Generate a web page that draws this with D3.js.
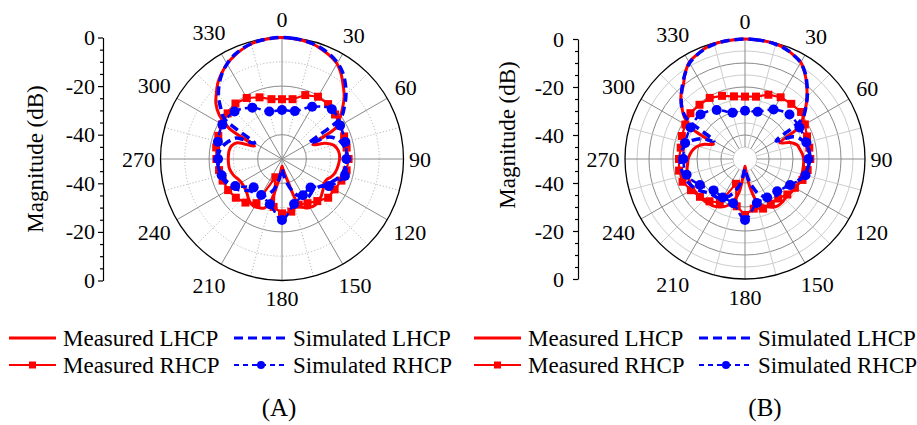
<!DOCTYPE html>
<html><head><meta charset="utf-8">
<script src="https://cdn.jsdelivr.net/npm/d3@7/dist/d3.min.js"></script>
<style>
body{margin:0;background:#fff;}
svg text{font-family:"Liberation Serif","Times New Roman",serif;fill:#000;}
</style></head><body>
<svg id="chart" width="917" height="425"></svg>
<script>
// ---------- data ----------
const angles5 = [0,5,10,15,20,25,30,35,40,45,50,55,60,65,70,75,80,85,90,95,100,105,110,115,120,125,130,135,140,145,150,155,160,165,170,175,180,185,190,195,200,205,210,215,220,225,230,235,240,245,250,255,260,265,270,275,280,285,290,295,300,305,310,315,320,325,330,335,340,345,350,355];
const angles10 = [0,10,20,30,40,50,60,70,80,90,100,110,120,130,140,150,160,170,180,190,200,210,220,230,240,250,260,270,280,290,300,310,320,330,340,350];
const angles15 = [0,15,30,45,60,75,90,105,120,135,150,165,180,195,210,225,240,255,270,285,300,315,330,345];
const angleTicks = [0,30,60,90,120,150,180,210,240,270,300,330];
const angleTickLabels = ["0","30","60","90","120","150","180","210","240","270","300","330"];
const magTickLabels = ["0","-20","-40","-40","-20","0"];

// Figure (A)
const aMeasLHCP = [0,-0.2,-0.5,-1.0,-2.0,-3.2,-4.7,-7.5,-10.8,-13.8,-17.5,-21.0,-24.5,-36.0,-31.0,-28.0,-26.8,-26.3,-26.3,-26.6,-27.0,-27.5,-28.5,-29.8,-30.0,-29.2,-28.4,-27.5,-26.8,-26.6,-27.0,-27.8,-30.0,-40.0,-44.0,-46.0,-47.0,-45.5,-40.0,-32.0,-28.5,-27.8,-27.4,-27.6,-28.6,-29.7,-30.4,-30.7,-30.7,-30.2,-29.2,-28.5,-28.0,-27.9,-27.9,-27.9,-28.0,-28.6,-30.5,-37.5,-25.0,-18.5,-14.5,-11.8,-9.0,-6.8,-4.8,-3.3,-2.0,-1.0,-0.4,-0.1];
const aSimLHCP = [0,-0.1,-0.4,-0.9,-1.7,-2.8,-4.3,-6.5,-9.5,-12.8,-16.5,-20.5,-37.0,-28.5,-26.0,-24.5,-23.7,-23.3,-23.3,-23.5,-24.0,-24.8,-26.0,-27.5,-29.0,-30.5,-31.5,-32.0,-31.5,-31.0,-31.5,-33.0,-35.0,-38.0,-41.0,-44.0,-46.0,-44.0,-40.0,-37.0,-35.0,-33.5,-32.5,-32.0,-32.0,-31.5,-30.0,-28.0,-26.5,-25.3,-24.5,-24.0,-23.7,-23.5,-23.5,-23.8,-24.5,-25.8,-27.5,-29.5,-37.0,-21.0,-17.0,-13.0,-9.8,-7.0,-4.8,-3.0,-1.8,-0.9,-0.4,-0.1];
const aMeasRHCP = [-25.4,-25.0,-22.0,-20.4,-20.5,-21.5,-22.5,-22.8,-23.0,-22.6,-23.0,-24.0,-25.0,-25.2,-27.4,-29.0,-30.0,-28.0,-27.6,-30.0,-42.0,-29.0,-26.6,-25.2,-24.4,-24.0,-23.7,-23.0,-22.5,-22.1,-21.5,-20.8,-20.2,-21.0,-23.0,-25.0];
const aSimRHCP = [-29.8,-29.6,-25.2,-21.0,-22.4,-23.0,-23.5,-23.2,-27.7,-33.4,-32.8,-30.8,-24.9,-30.7,-32.9,-33.5,-27.8,-24.3,-23.7,-22.7,-21.7,-22.4,-25.6,-29.8];

// Figure (B)
const bMeasLHCP = [0,-0.1,-0.2,-0.4,-1.0,-2.2,-3.5,-6.5,-10.0,-13.5,-17.0,-20.5,-25.0,-34.0,-30.0,-27.5,-26.8,-26.0,-25.6,-25.5,-25.5,-25.5,-25.6,-25.6,-25.8,-26.2,-26.6,-26.5,-26.2,-26.2,-26.8,-28.0,-29.5,-32.0,-38.0,-44.0,-47.0,-44.0,-36.0,-32.0,-29.5,-28.0,-27.0,-26.3,-26.0,-25.7,-25.5,-25.3,-25.1,-25.0,-25.1,-25.3,-25.5,-26.0,-26.3,-27.0,-28.0,-29.5,-32.0,-35.5,-24.0,-19.0,-15.5,-12.3,-10.0,-6.5,-3.5,-2.2,-1.0,-0.4,-0.2,-0.1];
const bSimLHCP = [0,-0.1,-0.2,-0.5,-1.1,-2.2,-3.6,-6.3,-9.8,-13.3,-17.0,-21.0,-35.0,-28.0,-25.5,-24.0,-23.3,-23.0,-23.0,-23.3,-23.8,-24.5,-25.5,-27.0,-28.5,-29.5,-30.0,-30.0,-30.0,-30.5,-31.5,-33.0,-35.0,-38.0,-41.0,-44.0,-46.0,-44.0,-40.0,-37.0,-34.5,-32.5,-31.0,-30.3,-30.0,-29.6,-28.5,-27.0,-25.8,-24.8,-24.0,-23.5,-23.2,-23.0,-23.0,-23.2,-23.8,-25.0,-27.0,-30.0,-35.0,-20.0,-15.5,-12.5,-9.5,-6.5,-3.8,-2.3,-1.2,-0.5,-0.2,-0.1];
const bMeasRHCP = [-24.0,-23.6,-21.5,-20.3,-20.0,-19.5,-21.2,-22.5,-22.8,-22.8,-23.5,-24.5,-26.0,-27.0,-28.5,-28.5,-28.0,-29.0,-26.7,-30.0,-39.0,-29.0,-27.0,-25.5,-24.0,-22.3,-22.1,-22.5,-22.8,-22.0,-21.3,-20.3,-20.5,-20.6,-22.0,-23.5];
const bSimRHCP = [-29.9,-29.6,-26.2,-23.8,-23.8,-23.5,-23.6,-23.9,-28.3,-31.0,-31.5,-31.0,-24.6,-30.9,-31.5,-31.5,-28.3,-24.8,-24.3,-24.2,-23.8,-23.8,-26.4,-30.0];

const seriesNames = ["Measured LHCP","Simulated LHCP","Measured RHCP","Simulated RHCP"];
const panelTitles = ["(A)","(B)"];

// ---------- drawing ----------
const svg = d3.select("#chart");
const RED = "#ff0000", BLUE = "#0000ff";

const panels = [
  {cx:282, cy:159, R:121.5, axisX:103, pad:3, ylabX:35, ylabY:159, dense:false, titleX:279,
   data:{ml:aMeasLHCP, sl:aSimLHCP, mr:aMeasRHCP, sr:aSimRHCP}, title:panelTitles[0], legX:0},
  {cx:745, cy:159, R:120, axisX:578, pad:9, ylabX:507, ylabY:135, dense:true, titleX:765,
   data:{ml:bMeasLHCP, sl:bSimLHCP, mr:bMeasRHCP, sr:bSimRHCP}, title:panelTitles[1], legX:465}
];

panels.forEach(p => {
  const g = svg.append("g").attr("transform", `translate(${p.cx},${p.cy})`);
  const r = d3.scaleLinear().domain([-50, 0]).range([0, p.R]).clamp(true);
  const rad = d => d * Math.PI / 180;

  // grid circles
  const gridG = g.append("g");
  if (!p.dense) {
    [-30, -10].forEach(v => gridG.append("circle").attr("r", r(v)).attr("fill", "none")
      .attr("stroke", "#b8b8b8").attr("stroke-width", 1).attr("stroke-dasharray", "1.2,2"));
    [-40, -20].forEach(v => gridG.append("circle").attr("r", r(v)).attr("fill", "none")
      .attr("stroke", "#8a8a8a").attr("stroke-width", 1));
  } else {
    [-45, -35, -25, -15, -5].forEach(v => gridG.append("circle").attr("r", r(v)).attr("fill", "none")
      .attr("stroke", "#cdcdcd").attr("stroke-width", 1));
    [-40, -30, -20, -10].forEach(v => gridG.append("circle").attr("r", r(v)).attr("fill", "none")
      .attr("stroke", "#8a8a8a").attr("stroke-width", 1));
  }
  // radial lines
  const minorAngles = angleTicks.map(a => a + 15);
  minorAngles.forEach(a => {
    const r0 = p.dense ? r(-45) : r(-40);
    gridG.append("line")
      .attr("x1", r0 * Math.sin(rad(a))).attr("y1", -r0 * Math.cos(rad(a)))
      .attr("x2", p.R * Math.sin(rad(a))).attr("y2", -p.R * Math.cos(rad(a)))
      .attr("stroke", p.dense ? "#cdcdcd" : "#b8b8b8").attr("stroke-width", 1)
      .attr("stroke-dasharray", p.dense ? null : "1.2,2");
  });
  angleTicks.forEach(a => {
    const r0 = p.dense ? r(-45) : 0;
    gridG.append("line")
      .attr("x1", r0 * Math.sin(rad(a))).attr("y1", -r0 * Math.cos(rad(a)))
      .attr("x2", p.R * Math.sin(rad(a))).attr("y2", -p.R * Math.cos(rad(a)))
      .attr("stroke", "#8a8a8a").attr("stroke-width", 1);
  });
  gridG.append("circle").attr("r", p.R).attr("fill", "none").attr("stroke", "#000").attr("stroke-width", 1.3);

  // angle labels
  const FS = 22, gap = 5.5, boxH = 25;
  angleTicks.forEach((a, i) => {
    const t = g.append("text").text(angleTickLabels[i]).attr("font-size", FS)
      .attr("text-anchor", "middle").attr("dy", "0.35em");
    const w = t.node().getComputedTextLength();
    const s = Math.abs(Math.sin(rad(a))), c = Math.abs(Math.cos(rad(a)));
    const rr = p.R + gap + s * w / 2 + c * boxH / 2;
    t.attr("x", rr * Math.sin(rad(a))).attr("y", -rr * Math.cos(rad(a)));
  });

  // series
  const mk = (angles, vals) => angles.map((a, i) => [rad(a), r(vals[i])]);
  const lineSmooth = d3.lineRadial().curve(d3.curveCatmullRomClosed.alpha(0.5));
  const lineLin = d3.lineRadial().curve(d3.curveLinearClosed);

  const ml = mk(angles5, p.data.ml), sl = mk(angles5, p.data.sl);
  const mr = mk(angles10, p.data.mr), sr = mk(angles15, p.data.sr);

  g.append("path").attr("d", lineSmooth(ml)).attr("fill", "none").attr("stroke", RED).attr("stroke-width", 3);
  g.append("path").attr("d", lineLin(mr)).attr("fill", "none").attr("stroke", RED).attr("stroke-width", 2.2);
  g.selectAll(null).data(mr).enter().append("rect")
    .attr("x", d => d[1] * Math.sin(d[0]) - 4).attr("y", d => -d[1] * Math.cos(d[0]) - 4)
    .attr("width", 8).attr("height", 8).attr("fill", RED);
  g.append("path").attr("d", lineSmooth(sl)).attr("fill", "none").attr("stroke", BLUE)
    .attr("stroke-width", 3.5).attr("stroke-dasharray", "9,5");
  g.append("path").attr("d", lineSmooth(sr)).attr("fill", "none").attr("stroke", BLUE)
    .attr("stroke-width", 2.5).attr("stroke-dasharray", "6,4");
  g.selectAll(null).data(sr).enter().append("circle")
    .attr("cx", d => d[1] * Math.sin(d[0])).attr("cy", d => -d[1] * Math.cos(d[0]))
    .attr("r", 5).attr("fill", BLUE);

  // magnitude axis (mirrored)
  const yS = d3.scaleLinear().domain([50, -50]).range([p.cy - p.R, p.cy + p.R]);
  const tickVals = d3.range(-50, 51, 5);
  const labelIdx = {"50":0, "30":1, "10":2, "-10":3, "-30":4, "-50":5};
  const ax = d3.axisLeft(yS).tickValues(tickVals).tickSize(5).tickSizeOuter(0).tickPadding(p.pad)
    .tickFormat(v => (String(v) in labelIdx) ? magTickLabels[labelIdx[String(v)]] : "");
  const axG = svg.append("g").attr("transform", `translate(${p.axisX},0)`).call(ax);
  axG.select(".domain").attr("stroke", "#000").attr("stroke-width", 1.2);
  axG.selectAll(".tick line").attr("stroke", "#000").attr("stroke-width", 1.2)
    .attr("x2", v => (String(v) in labelIdx) ? -5 : -3);
  axG.selectAll(".tick text").attr("font-size", 22).attr("font-family", "Liberation Serif").attr("fill", "#000");

  svg.append("text").text("Magnitude (dB)").attr("font-size", 23).attr("text-anchor", "middle")
    .attr("transform", `translate(${p.ylabX},${p.ylabY}) rotate(-90)`).attr("dy", "0.35em");

  // legend
  const L = svg.append("g").attr("transform", `translate(${p.legX},0)`);
  const row1 = 338, row2 = 365;
  L.append("line").attr("x1", 9).attr("x2", 56).attr("y1", row1).attr("y2", row1).attr("stroke", RED).attr("stroke-width", 3);
  L.append("line").attr("x1", 234).attr("x2", 288).attr("y1", row1).attr("y2", row1).attr("stroke", BLUE).attr("stroke-width", 3).attr("stroke-dasharray", "9,5");
  L.append("line").attr("x1", 9).attr("x2", 56).attr("y1", row2).attr("y2", row2).attr("stroke", RED).attr("stroke-width", 2);
  L.append("rect").attr("x", 29).attr("y", row2 - 3.5).attr("width", 7).attr("height", 7).attr("fill", RED);
  L.append("line").attr("x1", 234).attr("x2", 288).attr("y1", row2).attr("y2", row2).attr("stroke", BLUE).attr("stroke-width", 2).attr("stroke-dasharray", "5,4");
  L.append("circle").attr("cx", 261).attr("cy", row2).attr("r", 4).attr("fill", BLUE);
  [[63, row1 + 8, 0], [293, row1 + 8, 1], [63, row2 + 8, 2], [293, row2 + 8, 3]].forEach(d => {
    L.append("text").attr("x", d[0]).attr("y", d[1]).attr("font-size", 23).text(seriesNames[d[2]]);
  });

  svg.append("text").text(p.title).attr("x", p.titleX).attr("y", 416).attr("font-size", 25).attr("text-anchor", "middle");
});
</script>
</body></html>
